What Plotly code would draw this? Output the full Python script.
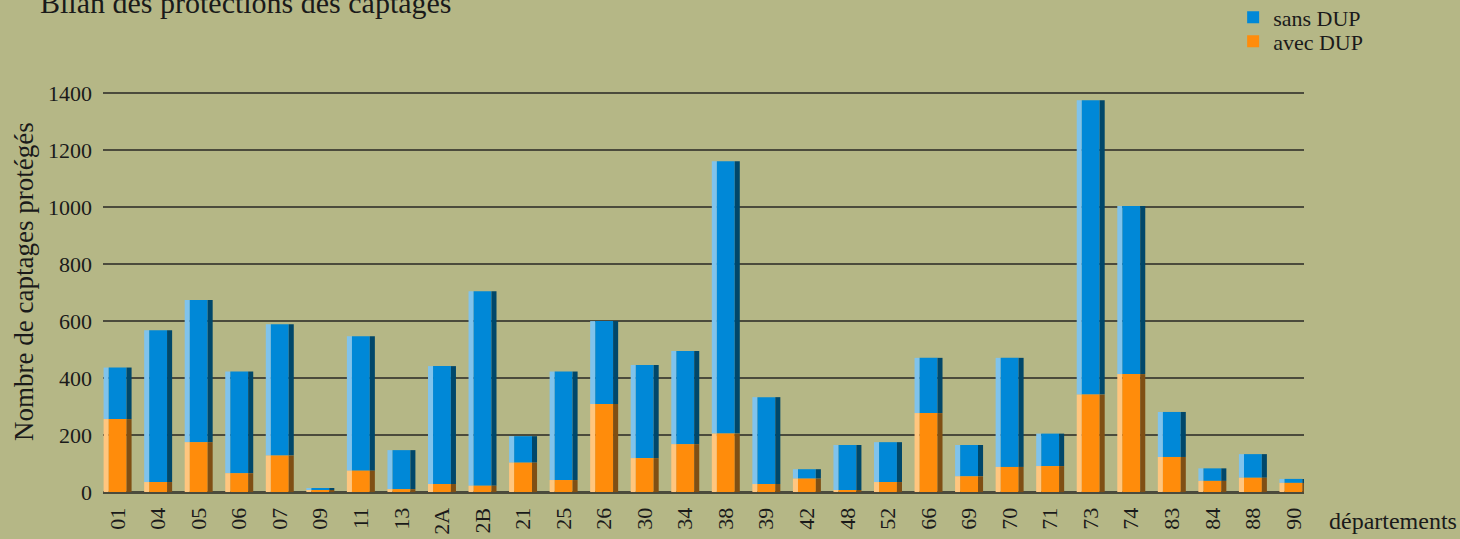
import plotly.graph_objects as go

departements = ["01", "04", "05", "06", "07", "09", "11", "13", "2A", "2B",
                "21", "25", "26", "30", "34", "38", "39", "42", "48", "52",
                "66", "69", "70", "71", "73", "74", "83", "84", "88", "90"]
avec_dup = [256, 35, 175, 66, 128, 7, 75, 10, 28, 22,
            103, 42, 309, 119, 168, 205, 28, 47, 7, 35,
            277, 55, 88, 91, 342, 414, 123, 39, 50, 32]
sans_dup = [181, 533, 499, 357, 461, 7, 472, 137, 414, 683,
            93, 381, 291, 327, 327, 956, 305, 33, 158, 140,
            194, 110, 383, 114, 1033, 590, 158, 44, 83, 14]
y_ticks = [0, 200, 400, 600, 800, 1000, 1200, 1400]

FONT = "Liberation Serif"
BG = "#b5b786"
GRID = "#4b4b3c"
TXT = "#1a1a1a"

series = [
    ("sans DUP", sans_dup, avec_dup, ("#80c3ec", "#0088d7", "#00476a"), "legend"),
    ("avec DUP", avec_dup, [0] * len(avec_dup), ("#ffc67f", "#ff8c0b", "#7f4f14"), "legend2"),
]
# strips: (offset, width) in category units -> light left, main, dark right
strips = [(-0.345, 0.125), (-0.22, 0.44), (0.22, 0.125)]

fig = go.Figure()
for name, vals, base, cols, leg in series:
    for i, (off, w) in enumerate(strips):
        fig.add_trace(go.Bar(
            x=departements, y=vals, base=base,
            offset=off, width=w,
            marker=dict(color=cols[i], line=dict(width=0)),
            name=name, legendgroup=name, showlegend=(i == 1),
            legend=leg, hoverinfo="skip" if i != 1 else None,
        ))

leg_common = dict(xanchor="left", yanchor="top", bgcolor="rgba(0,0,0,0)",
                  font=dict(family=FONT, size=22, color=TXT), itemwidth=30)

fig.update_layout(
    width=1460, height=539,
    barmode="overlay",
    paper_bgcolor=BG, plot_bgcolor=BG,
    font=dict(family=FONT, size=22, color=TXT),
    margin=dict(l=103, r=156, t=79, b=47, autoexpand=False),
    title=dict(text="Bilan des protections des captages",
               font=dict(family=FONT, size=30, color=TXT),
               x=40 / 1460, xanchor="left", xref="container",
               y=1 - 2 / 539, yanchor="middle", yref="container"),
    legend=dict(x=0.941, y=1.200, **leg_common),
    legend2=dict(x=0.941, y=1.142, **leg_common),
    showlegend=True,
    annotations=[
        dict(text="départements", xref="paper", yref="paper",
             x=1.0188, y=-0.070, xanchor="left", yanchor="middle",
             showarrow=False, font=dict(family=FONT, size=24, color=TXT)),
        dict(text="Nombre de captages protégés", xref="paper", yref="paper",
             x=-0.0658, y=0.511, xanchor="center", yanchor="middle",
             textangle=-90, showarrow=False,
             font=dict(family=FONT, size=27, color=TXT)),
    ],
)
fig.update_xaxes(type="category", range=[-0.36, 29.26], tickangle=-90,
                 showgrid=False, showline=True, linecolor=GRID, linewidth=2,
                 ticks="", ticklabelstandoff=5, tickfont=dict(size=22))
fig.update_yaxes(range=[0, 1450], tickvals=y_ticks, showgrid=True,
                 gridcolor=GRID, gridwidth=2, zeroline=True, zerolinecolor=GRID,
                 zerolinewidth=2, ticks="", ticklabelstandoff=10,
                 tickfont=dict(size=22))

fig.write_html("out.html", config={"displayModeBar": False},
               post_script="document.body.style.margin='0';"
                           "document.body.style.overflow='hidden';")
